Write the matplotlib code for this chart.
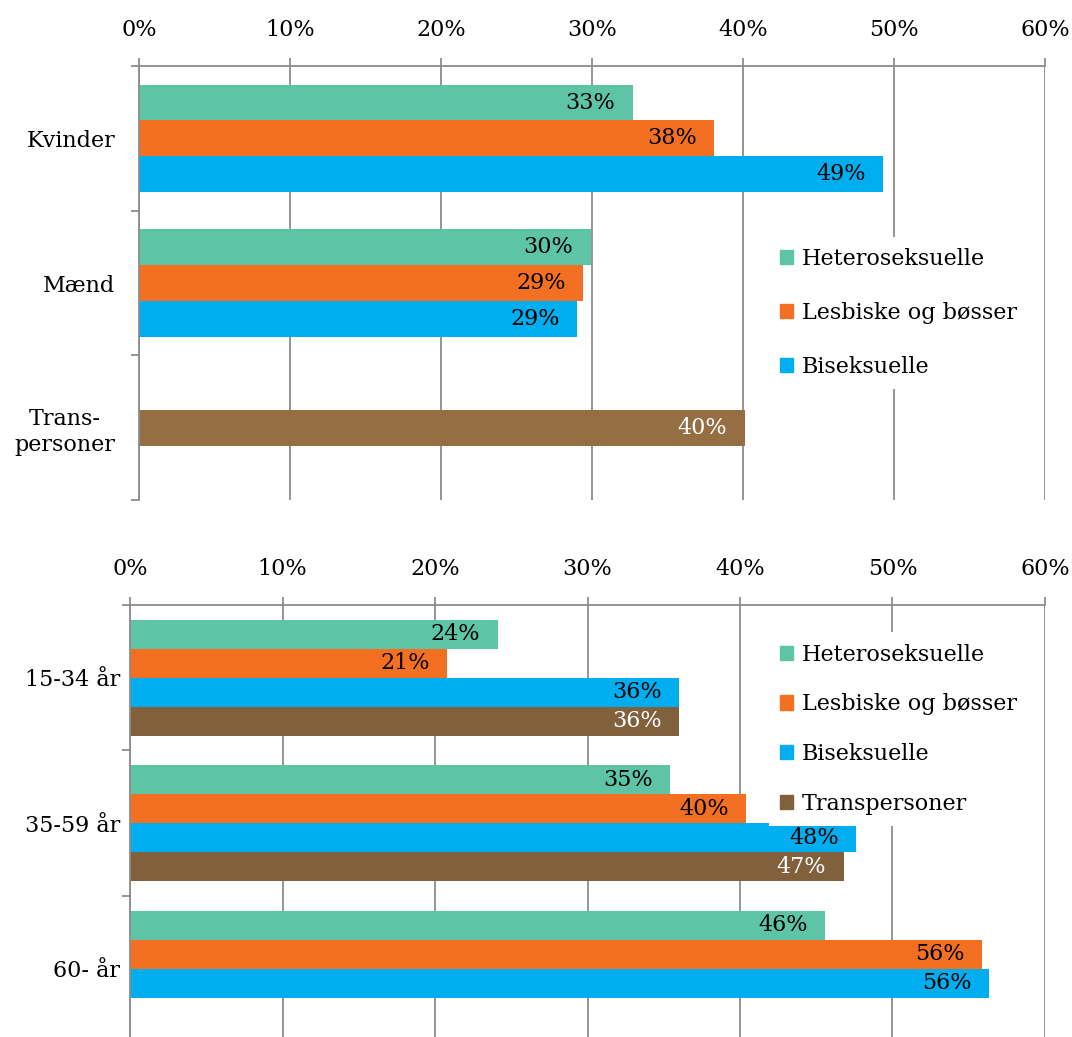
"""Two-panel horizontal bar chart: share by sexual orientation, gender and age."""

import matplotlib
matplotlib.use("Agg")
import matplotlib.pyplot as plt
from matplotlib.patches import Patch

# --- data (percent) ---------------------------------------------------------
series_names = ["Heteroseksuelle", "Lesbiske og bøsser", "Biseksuelle", "Transpersoner"]

top_groups = ["Kvinder", "Mænd", "Trans-\npersoner"]
top_hetero = [32.7, 29.9, None]
top_lesbi = [38.1, 29.4, None]
top_bi = [49.3, 29.0, None]
top_trans = [None, None, 40.1]

bot_groups = ["15-34 år", "35-59 år", "60- år"]
bot_hetero = [24.1, 35.4, 45.6]
bot_lesbi = [20.8, 40.4, 55.9]
bot_bi = [36.0, 47.6, 56.3]
bot_trans = [36.0, 46.8, None]

x_ticks = [0, 10, 20, 30, 40, 50, 60]

# --- style ------------------------------------------------------------------
plt.rcParams["font.family"] = ["DejaVu Serif"]
FS = 16
GRAY = "#8c8c8c"
colors = ["#5DC4A5", "#F37022", "#00ADEE"]
brown_top = "#956F43"
brown_bot = "#80613C"


def style_axes(ax, groups, ylabel_pad):
    ax.set_xlim(0, 60)
    ax.set_ylim(len(groups) - 0.5, -0.5)
    ax.xaxis.tick_top()
    ax.set_xticks(x_ticks)
    ax.set_xticklabels([f"{t}%" for t in x_ticks])
    ax.tick_params(axis="x", direction="out", length=6, width=1.3, color=GRAY,
                   pad=12, labelsize=FS)
    ax.set_yticks(range(len(groups)))
    ax.set_yticklabels(groups, multialignment="center")
    ax.set_yticks([i - 0.5 for i in range(len(groups) + 1)], minor=True)
    ax.tick_params(axis="y", which="major", length=0, pad=ylabel_pad, labelsize=FS)
    ax.tick_params(axis="y", which="minor", length=6, width=1.3, color=GRAY)
    for side in ("bottom", "right"):
        ax.spines[side].set_visible(False)
    for side in ("top", "left"):
        ax.spines[side].set_color(GRAY)
        ax.spines[side].set_linewidth(1.3)
    ax.grid(True, axis="x", color=GRAY, linewidth=1.3)
    ax.set_axisbelow(True)


def draw_series(ax, values, slot, height, color, text_color="black"):
    for i, v in enumerate(values):
        if v is None:
            continue
        y = i + slot * height
        ax.barh(y, v, height=height, color=color, linewidth=0)
        ax.annotate(f"{round(v)}%", (v, y), xytext=(-12.5, 0), textcoords="offset points",
                    ha="right", va="center", fontsize=FS, color=text_color)


fig = plt.figure(figsize=(10.72, 10.37), dpi=100)

# top panel
ax1 = fig.add_axes([0.1297, 0.5178, 0.8451, 0.4185])
h1 = 0.248
draw_series(ax1, top_hetero, -1, h1, colors[0])
draw_series(ax1, top_lesbi, 0, h1, colors[1])
draw_series(ax1, top_bi, 1, h1, colors[2])
draw_series(ax1, top_trans, 0, h1, brown_top, text_color="white")
style_axes(ax1, top_groups, 17)
handles1 = [Patch(color=c, label=n) for c, n in zip(colors, series_names[:3])]
ax1.legend(handles=handles1, loc="upper left", bbox_to_anchor=(0.695, 0.606),
           borderaxespad=0, borderpad=0.5, frameon=True, facecolor="white",
           edgecolor="none", framealpha=1, fancybox=False, fontsize=FS,
           handlelength=0.6, handleheight=0.6, handletextpad=0.4, labelspacing=1.43)

# bottom panel
ax2 = fig.add_axes([0.1213, -0.0043, 0.8535, 0.4209])
h2 = 0.2
draw_series(ax2, bot_hetero, -1.5, h2, colors[0])
draw_series(ax2, bot_lesbi, -0.5, h2, colors[1])
draw_series(ax2, bot_bi, 0.5, h2, colors[2])
draw_series(ax2, bot_trans, 1.5, h2, brown_bot, text_color="white")
style_axes(ax2, bot_groups, 7)
handles2 = [Patch(color=c, label=n) for c, n in zip(colors + [brown_bot], series_names)]
ax2.legend(handles=handles2, loc="upper left", bbox_to_anchor=(0.698, 0.937),
           borderaxespad=0, borderpad=0.5, frameon=True, facecolor="white",
           edgecolor="none", framealpha=1, fancybox=False, fontsize=FS,
           handlelength=0.6, handleheight=0.6, handletextpad=0.4, labelspacing=1.25)

fig.savefig("out.png", dpi=100)
plt.close(fig)
